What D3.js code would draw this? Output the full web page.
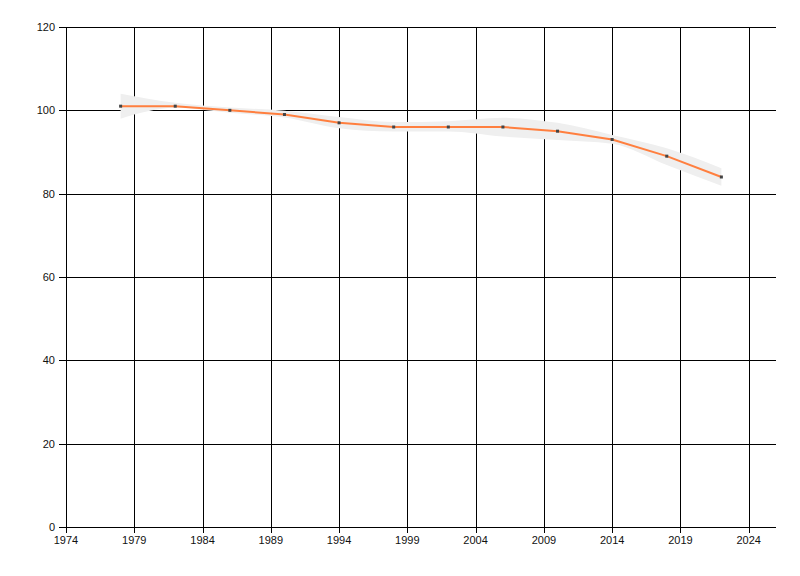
<!DOCTYPE html>
<html><head><meta charset="utf-8">
<script src="https://cdn.jsdelivr.net/npm/d3@7"></script>
<style>body{margin:0;background:#fff}svg{display:block}</style>
</head><body>
<script>
const years  = [1978,1982,1986,1990,1994,1998,2002,2006,2010,2014,2018,2022];
const values = [101,101,100,99,97,96,96,96,95,93,89,84];
const upper  = [104,101.8,100.7,99.9,98.4,97.2,97.4,98.2,97,94.1,90.9,86.1];
const lower  = [98,100.6,99.4,98.3,95.7,94.9,94.9,93.7,92.9,92,86.9,81.9];
const xTicks = [1974,1979,1984,1989,1994,1999,2004,2009,2014,2019,2024];
const yTicks = [0,20,40,60,80,100,120];

const W=800,H=576;
const svg=d3.select("body").append("svg").attr("width",W).attr("height",H);
const x=d3.scaleLinear().domain([1974,2026]).range([66,776]);
const y=d3.scaleLinear().domain([0,120]).range([527,27]);

// grid
svg.append("g").selectAll("line").data(yTicks).join("line")
  .attr("x1",59).attr("x2",776).attr("y1",d=>Math.round(y(d))+0.5).attr("y2",d=>Math.round(y(d))+0.5)
  .attr("stroke","#000").attr("stroke-width",1);
svg.append("g").selectAll("line").data(xTicks).join("line")
  .attr("x1",d=>Math.round(x(d))+0.5).attr("x2",d=>Math.round(x(d))+0.5)
  .attr("y1",y(120)).attr("y2",y(0)+6)
  .attr("stroke","#000").attr("stroke-width",1);

// labels
svg.append("g").selectAll("text").data(yTicks).join("text")
  .attr("x",55).attr("y",d=>y(d)).attr("dy","0.35em").attr("text-anchor","end")
  .attr("font-family","Liberation Sans, Arial, sans-serif").attr("font-size",11).attr("fill","#111")
  .text(d=>d);
svg.append("g").selectAll("text").data(xTicks).join("text")
  .attr("x",d=>x(d)).attr("y",y(0)+17).attr("text-anchor","middle")
  .attr("font-family","Liberation Sans, Arial, sans-serif").attr("font-size",11).attr("fill","#111")
  .text(d=>d);

const data=years.map((yr,i)=>({yr,v:values[i],u:upper[i],l:lower[i]}));

// band
svg.append("path").datum(data)
  .attr("d",d3.area().x(d=>x(d.yr)).y0(d=>y(d.l)).y1(d=>y(d.u)).curve(d3.curveMonotoneX))
  .attr("fill","#efefef");

// line
svg.append("path").datum(data)
  .attr("d",d3.line().x(d=>x(d.yr)).y(d=>y(d.v)))
  .attr("fill","none").attr("stroke","#ff7f3f").attr("stroke-width",2);

// markers
svg.append("g").selectAll("rect").data(data).join("rect")
  .attr("x",d=>x(d.yr)-1.5).attr("y",d=>y(d.v)-1.5).attr("width",3).attr("height",3)
  .attr("fill","#444");
</script>
</body></html>
